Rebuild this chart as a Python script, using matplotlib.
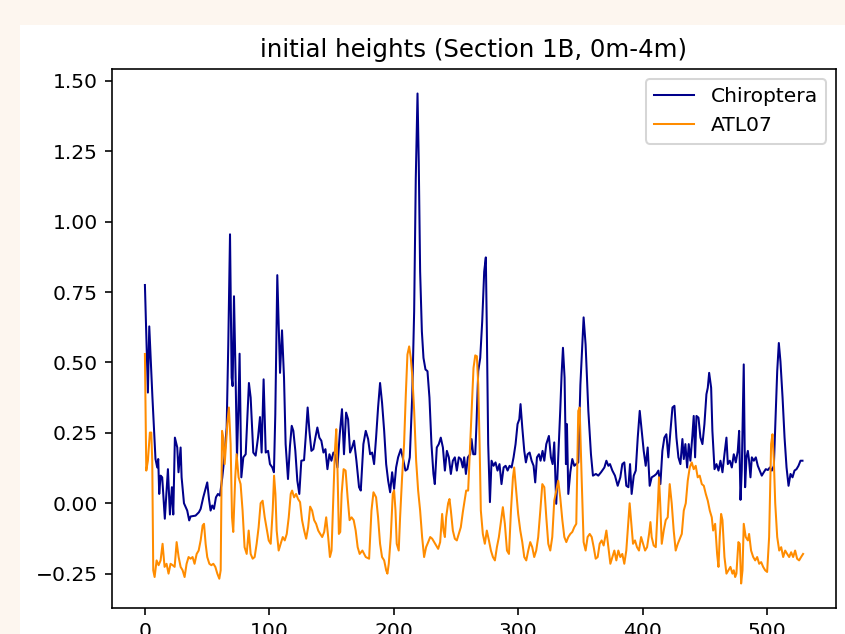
import matplotlib
matplotlib.use("Agg")
import matplotlib.pyplot as plt
from matplotlib.patches import Rectangle

# Chiroptera heights (sample index, height in m)
chir_x = [0, 2.4, 3.5, 6, 8.5, 9.9, 10.7, 11.5, 12.6, 13.9, 16, 18.5, 20.1, 21.7, 22.8,
          24.1, 26, 27, 28.7, 29.5, 31.4, 34, 35.6, 36.7, 40.7, 43.4, 44.8, 46.9, 50.1,
          51.5, 52.8, 54.1, 55.5, 57.1, 58.7, 60.3, 62.2, 64.1, 65.7, 67, 68.4, 69.7,
          70.5, 71.6, 72.9, 74, 75.1, 76.1, 77.5, 79.1, 81, 83.6, 85, 87.1, 89, 90.9,
          92.5, 93.8, 95.4, 97.1, 99, 100.5, 102.4, 103.7, 104.8, 106.4, 108.6, 110.2,
          111.8, 113.1, 115, 116.6, 118, 119.3, 120.9, 122.5, 124.1, 125.7, 127.9, 129.2,
          130.8, 132.2, 133.8, 135.4, 137, 138.6, 140.2, 141.8, 143.5, 145.1, 146.7,
          148.3, 149.9, 151.5, 153.1, 154.7, 156.6, 158.4, 160, 161.7, 163.3, 164.9,
          166.5, 168.1, 170, 172.1, 173.5, 175.6, 177.5, 179.4, 181, 182.6, 184.2, 185.8,
          187.4, 189, 190.6, 192.3, 193.9, 195.5, 197.1, 198.7, 200.3, 201.9, 203.5,
          205.7, 207.5, 209.4, 211, 212.9, 214.8, 216.4, 217.7, 219.1, 220.1, 221.2,
          222.6, 223.9, 225.5, 227.1, 228.7, 230.3, 231.9, 233, 234.6, 236.2, 237.8,
          239.5, 241.1, 242.7, 244.3, 245.9, 247.5, 249.1, 250.7, 252.3, 253.9, 255.5,
          256.6, 258, 259.6, 261.4, 262.5, 263.9, 265.5, 266.5, 267.9, 269.5, 271.1,
          272.7, 274, 274.8, 275.9, 277.3, 278.6, 280.2, 281.8, 283.4, 285, 286.6, 288.3,
          289.9, 291.5, 293.1, 294.7, 296.3, 297.9, 299.5, 300.9, 301.9, 303.3, 304.9,
          306.2, 307.6, 309.2, 310.8, 312.4, 313.7, 315.1, 316.7, 318, 319.6, 321, 322.6,
          324.7, 326.3, 327.7, 329, 330.6, 332.2, 333.8, 334.9, 336, 337.3, 338.4, 339.2,
          340.3, 341.9, 343.5, 345.1, 346.7, 348.3, 350, 352.6, 354.2, 356.4, 358.5,
          360.1, 362.5, 364.4, 366.6, 369.3, 370.9, 372.5, 373.8, 375.7, 377.8, 380,
          382.1, 383.7, 385.3, 386.9, 388.6, 389.9, 391.2, 392.9, 394.5, 396.1, 397.7,
          399.3, 400.9, 402.5, 404.1, 405.7, 407.3, 409.5, 411.1, 412.7, 414.3, 415.9,
          417.5, 419.1, 420.7, 422.4, 424, 425.6, 427.2, 428.8, 430.4, 432, 433.1, 434.4,
          435.8, 437.1, 438.4, 440, 441.1, 442.2, 443.3, 444.9, 446.5, 448.1, 449.7,
          451.3, 452.4, 453.5, 455.1, 456.1, 457.8, 459.4, 461, 462.6, 464.2, 465.8,
          467.4, 468.5, 470.1, 471.7, 473.3, 474.9, 476.5, 477.6, 478.7, 479.7, 481.3,
          482.4, 483.5, 484.6, 485.6, 486.7, 487.8, 489.4, 491, 492.6, 494.2, 495.8,
          497.4, 499, 500.7, 502.3, 503.9, 505.5, 507.1, 508.2, 509.5, 510.8, 512.5,
          514.1, 515.7, 517.3, 518.9, 520.5, 522.1, 523.7, 525.3, 526.9, 528.5]
chir_h = [0.775, 0.393, 0.628, 0.38, 0.157, 0.127, 0.157, 0.033, 0.098, 0.092, -0.055,
          0.121, -0.04, 0.057, -0.04, 0.233, 0.198, 0.11, 0.198, 0.092, 0.0, -0.026,
          -0.061, -0.047, -0.044, -0.032, -0.02, 0.021, 0.074, 0.015, -0.026, -0.008,
          -0.02, 0.021, 0.033, 0.027, 0.092, 0.174, 0.269, 0.563, 0.955, 0.446, 0.416,
          0.735, 0.446, 0.163, 0.328, 0.531, 0.092, 0.163, 0.174, 0.427, 0.375, 0.18,
          0.169, 0.233, 0.306, 0.18, 0.44, 0.18, 0.186, 0.139, 0.127, 0.11, 0.316, 0.81,
          0.463, 0.614, 0.446, 0.21, 0.086, 0.204, 0.275, 0.257, 0.186, 0.08, 0.033,
          0.151, 0.153, 0.233, 0.34, 0.257, 0.186, 0.192, 0.233, 0.269, 0.233, 0.222,
          0.18, 0.192, 0.121, 0.174, 0.151, 0.18, 0.169, 0.127, 0.245, 0.334, 0.174,
          0.322, 0.298, 0.18, 0.198, 0.222, 0.151, 0.057, 0.045, 0.21, 0.257, 0.228,
          0.174, 0.18, 0.139, 0.233, 0.34, 0.427, 0.357, 0.257, 0.139, 0.08, 0.039, 0.11,
          0.051, 0.127, 0.163, 0.192, 0.157, 0.116, 0.121, 0.163, 0.375, 0.681, 1.153,
          1.455, 1.212, 0.823, 0.61, 0.516, 0.475, 0.469, 0.375, 0.21, 0.104, 0.068,
          0.198, 0.21, 0.233, 0.198, 0.116, 0.186, 0.163, 0.104, 0.151, 0.163, 0.116,
          0.163, 0.157, 0.127, 0.163, 0.104, 0.163, 0.174, 0.228, 0.174, 0.174, 0.281,
          0.469, 0.516, 0.646, 0.823, 0.873, 0.622, 0.21, 0.004, 0.151, 0.133, 0.145,
          0.116, 0.139, 0.068, 0.127, 0.133, 0.116, 0.133, 0.127, 0.163, 0.21, 0.281,
          0.298, 0.352, 0.269, 0.186, 0.145, 0.174, 0.18, 0.151, 0.133, 0.074, 0.163,
          0.174, 0.151, 0.186, 0.151, 0.21, 0.239, 0.163, 0.139, 0.216, -0.002, 0.163,
          0.328, 0.457, 0.552, 0.446, 0.139, 0.281, 0.033, 0.11, 0.157, 0.133, 0.139,
          0.145, 0.42, 0.66, 0.563, 0.328, 0.174, 0.098, 0.104, 0.098, 0.11, 0.127,
          0.151, 0.133, 0.139, 0.116, 0.098, 0.062, 0.092, 0.139, 0.145, 0.062, 0.057,
          0.139, 0.033, 0.098, 0.116, 0.233, 0.328, 0.257, 0.186, 0.133, 0.198, 0.062,
          0.092, 0.098, 0.104, 0.116, 0.068, 0.186, 0.233, 0.245, 0.163, 0.257, 0.34,
          0.346, 0.233, 0.163, 0.139, 0.228, 0.157, 0.21, 0.127, 0.21, 0.151, 0.239,
          0.31, 0.163, 0.31, 0.304, 0.233, 0.21, 0.281, 0.387, 0.41, 0.463, 0.41, 0.257,
          0.121, 0.139, 0.116, 0.151, 0.11, 0.174, 0.233, 0.139, 0.151, 0.127, 0.174,
          0.145, 0.186, 0.257, 0.012, 0.116, 0.493, 0.057, 0.163, 0.186, 0.151, 0.092,
          0.163, 0.151, 0.163, 0.133, 0.116, 0.098, 0.11, 0.121, 0.118, 0.127, 0.116,
          0.133, 0.328, 0.469, 0.569, 0.504, 0.375, 0.233, 0.127, 0.062, 0.104, 0.092,
          0.116, 0.121, 0.133, 0.151, 0.151]

# ATL07 heights (sample index, height in m)
atl_x = [0, 1.1, 2.4, 4, 5.1, 5.9, 6.7, 7.8, 9.4, 11, 12.6, 14.2, 15.8, 17.4, 19, 20.6,
         22.3, 23.9, 25.5, 27.1, 28.7, 30.3, 31.9, 33.5, 35.1, 36.7, 38.3, 39.9, 41.6,
         43.2, 44.8, 46.4, 47.5, 48.8, 50.1, 51.8, 53.4, 55, 56.6, 58.2, 59.8, 60.9, 62,
         63, 64.1, 65.2, 66.2, 67.5, 68.9, 70, 71, 72.6, 73.7, 75.3, 76.9, 78.5, 80.1,
         81.8, 83.4, 85, 86.6, 88.2, 89.8, 91.4, 93, 94.6, 96.3, 97.9, 99.5, 101.1,
         102.7, 103.8, 104.9, 105.9, 107.5, 109.1, 110.8, 112.4, 114, 115.6, 117.2,
         118.3, 119.9, 121.5, 123.1, 124.7, 126.3, 128, 129.6, 131.2, 132.8, 134.4, 136,
         137.6, 139.3, 140.9, 142.5, 144.1, 145.7, 147.3, 148.7, 150, 151.1, 152.7,
         153.8, 154.8, 155.9, 157, 158.1, 159.7, 161.3, 162.9, 164.5, 166.1, 167.8,
         169.4, 171, 172.6, 174.8, 177.5, 180.2, 182.1, 183.7, 185.8, 187.4, 189, 190.6,
         192.3, 193.9, 194.9, 196, 197.6, 199.2, 200.3, 201.4, 202.4, 204, 205.1, 206.7,
         208.3, 209.7, 211, 212.4, 213.7, 215, 216.4, 218, 219.6, 221.2, 222.8, 224.4,
         226, 227.7, 229.3, 230.9, 232.5, 234.1, 235.7, 237.3, 238.9, 240, 241.1, 242.1,
         243.7, 244.8, 245.9, 247.5, 249.1, 250.7, 252.3, 253.9, 255.5, 256.6, 258.2,
         259.8, 261.4, 263, 264.1, 265.5, 266.8, 267.9, 269, 270, 271.6, 273.2, 274.8,
         276.5, 278.1, 279.7, 281.3, 282.9, 284.5, 286.1, 287.7, 289.3, 291, 292.6,
         294.2, 295.8, 296.8, 298.4, 300, 301.7, 303.3, 304.9, 306.5, 308.1, 309.7,
         311.3, 312.9, 314.5, 316.1, 317.8, 319.4, 321, 322.6, 324.2, 325.8, 327.4, 329,
         330.6, 332.2, 333.8, 335.5, 337.1, 338.7, 340.3, 341.9, 343.5, 345.1, 346.7,
         348.3, 349.4, 351, 352.6, 354.2, 355.8, 357.5, 359.1, 360.7, 362.3, 363.9,
         365.5, 367.1, 368.7, 370.9, 372.5, 374.1, 375.7, 377.3, 378.9, 380.5, 382.1,
         383.7, 385.3, 386.9, 388.6, 389.6, 390.7, 392.3, 393.9, 395.5, 397.1, 398.8,
         400.4, 402, 403.6, 405.2, 406.3, 407.3, 408.9, 410.6, 412.2, 413.2, 414.3,
         415.4, 417, 418.6, 420.2, 421.8, 423.4, 425, 426.6, 428.3, 429.9, 431.5, 433.1,
         434.7, 436.3, 437.9, 439.5, 441.1, 442.7, 444.3, 445.9, 447.6, 449.2, 450.8,
         452.4, 454, 455.6, 456.7, 458.3, 459.9, 461, 462, 463.1, 464.2, 465.8, 467.4,
         469, 470.6, 472.2, 473.3, 474.4, 475.4, 477, 478.1, 479.2, 480.3, 481.3, 482.9,
         484.6, 485.6, 487.2, 488.9, 490.5, 492.1, 493.7, 495.3, 496.9, 498.5, 500.1,
         501.7, 503.3, 504.4, 505.5, 506.6, 508.2, 509.8, 511.4, 513, 514.6, 516.2,
         517.8, 519.4, 521, 522.6, 524.2, 525.8, 527.4, 529]
atl_h = [0.53, 0.116, 0.151, 0.251, 0.251, 0.151, -0.238, -0.262, -0.203, -0.22, -0.203,
         -0.144, -0.226, -0.215, -0.25, -0.215, -0.22, -0.226, -0.138, -0.191, -0.226,
         -0.238, -0.262, -0.215, -0.191, -0.197, -0.191, -0.215, -0.18, -0.168, -0.132,
         -0.079, -0.073, -0.144, -0.191, -0.215, -0.22, -0.215, -0.226, -0.25, -0.268,
         -0.238, 0.257, 0.233, 0.139, 0.21, 0.281, 0.34, 0.21, -0.05, -0.102, 0.092,
         0.174, 0.092, 0.068, -0.026, -0.156, -0.18, -0.097, -0.18, -0.197, -0.191,
         -0.144, -0.085, 0.0, 0.009, -0.05, -0.091, -0.132, -0.144, -0.026, 0.098, 0.033,
         -0.097, -0.168, -0.144, -0.12, -0.132, -0.109, -0.05, 0.033, 0.045, 0.021, 0.033,
         0.015, 0.004, -0.06, -0.097, -0.126, -0.085, -0.012, -0.026, -0.06, -0.073,
         -0.097, -0.109, -0.12, -0.102, -0.05, -0.12, -0.191, -0.168, -0.026, 0.186,
         0.263, 0.116, -0.109, -0.102, 0.033, 0.121, 0.116, 0.021, -0.06, -0.05, -0.06,
         -0.097, -0.156, -0.18, -0.168, -0.191, -0.197, -0.026, 0.039, 0.021, -0.05,
         -0.144, -0.191, -0.203, -0.238, -0.25, -0.215, -0.12, 0.033, 0.045, -0.026,
         -0.144, -0.168, -0.05, 0.092, 0.21, 0.387, 0.528, 0.557, 0.516, 0.446, 0.328,
         0.151, 0.045, -0.026, -0.12, -0.191, -0.156, -0.138, -0.12, -0.126, -0.138,
         -0.15, -0.162, -0.138, -0.038, -0.097, -0.12, -0.05, 0.0, 0.015, -0.026, -0.097,
         -0.126, -0.132, -0.109, -0.085, -0.032, 0.0, 0.045, 0.045, 0.21, 0.375, 0.48,
         0.525, 0.522, 0.422, 0.21, -0.026, -0.109, -0.144, -0.097, -0.132, -0.168,
         -0.191, -0.203, -0.156, -0.12, -0.067, -0.014, -0.073, -0.168, -0.18, -0.026,
         0.092, 0.127, 0.045, -0.038, -0.097, -0.138, -0.191, -0.203, -0.168, -0.138,
         -0.156, -0.191, -0.168, -0.12, -0.026, 0.068, 0.057, -0.05, -0.144, -0.168,
         -0.12, 0.009, 0.045, 0.08, 0.021, -0.06, -0.12, -0.138, -0.12, -0.109, -0.102,
         -0.085, -0.073, 0.328, 0.34, 0.092, -0.138, -0.168, -0.12, -0.109, -0.12,
         -0.156, -0.197, -0.191, -0.144, -0.132, -0.15, -0.097, -0.156, -0.215, -0.191,
         -0.168, -0.203, -0.168, -0.191, -0.18, -0.215, -0.168, -0.06, 0.0, -0.06,
         -0.144, -0.132, -0.156, -0.168, -0.12, -0.144, -0.168, -0.156, -0.109, -0.067,
         -0.12, -0.15, -0.156, -0.014, 0.092, -0.014, -0.144, -0.097, -0.06, -0.05,
         0.068, 0.0, -0.097, -0.168, -0.144, -0.126, -0.109, -0.026, 0.0, 0.08, 0.127,
         0.145, 0.121, 0.133, 0.092, 0.098, 0.068, 0.062, 0.033, 0.009, -0.026, -0.05,
         -0.097, -0.073, -0.18, -0.226, -0.12, -0.038, -0.06, -0.191, -0.25, -0.238,
         -0.226, -0.25, -0.238, -0.262, -0.25, -0.138, -0.144, -0.285, -0.238, -0.073,
         -0.12, -0.132, -0.109, -0.168, -0.191, -0.203, -0.191, -0.215, -0.209, -0.226,
         -0.238, -0.244, -0.12, 0.21, 0.245, 0.151, 0.0, -0.12, -0.168, -0.156, -0.191,
         -0.168, -0.18, -0.191, -0.174, -0.191, -0.168, -0.197, -0.203, -0.191, -0.18]

page_bg = "#fdf6ef"
dpi = 146

fig = plt.figure(figsize=(845 / dpi, 634 / dpi), dpi=dpi, facecolor=page_bg)
# white figure canvas inside the page screenshot, kept behind the axes
fig.patches.append(Rectangle((20 / 845, 0), 1 - 20 / 845, 1 - 25 / 634,
                             transform=fig.transFigure, facecolor="white",
                             edgecolor="none", zorder=-10))

ax = fig.add_axes([112 / 845, 1 - 608 / 634, (836 - 112) / 845, (608 - 69) / 634])
ax.set_zorder(5)
ax.plot(chir_x, chir_h, color="darkblue", linewidth=1, label="Chiroptera")
ax.plot(atl_x, atl_h, color="darkorange", linewidth=1, label="ATL07")
ax.set_title("initial heights (Section 1B, 0m-4m)")
ax.set_xticks([0, 100, 200, 300, 400, 500])
ax.set_yticks([-0.25, 0.0, 0.25, 0.5, 0.75, 1.0, 1.25, 1.5])
ax.legend(loc="upper right")

fig.savefig("out.png", dpi=dpi, facecolor=page_bg)
